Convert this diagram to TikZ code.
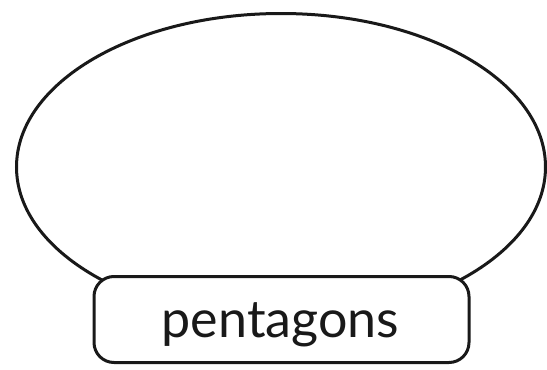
\documentclass[tikz,border=0pt]{standalone}
\usepackage{fontspec}
\setmainfont{Lato}
\usetikzlibrary{shapes.geometric}
\tikzset{blob/.style={ellipse, draw=black!90, line width=3pt, inner sep=0pt},
  labelbox/.style={rectangle, rounded corners=20pt, draw=black!90, fill=white, line width=3pt, inner sep=0pt}}

\begin{document}
\begin{tikzpicture}[x=1pt, y=-1pt]
    \useasboundingbox (0,0) rectangle (547,370);
    \node[blob, minimum width=529pt, minimum height=307pt] (set) at (281,167) {};
    \node[labelbox, minimum width=375pt, minimum height=86pt] (name) at (281.5,319.5) {};
    \node[font=\fontsize{52}{56}\selectfont, text=black!90, anchor=base] (word) at (280.5,337) {pentagons};
  \end{tikzpicture}
\end{document}
